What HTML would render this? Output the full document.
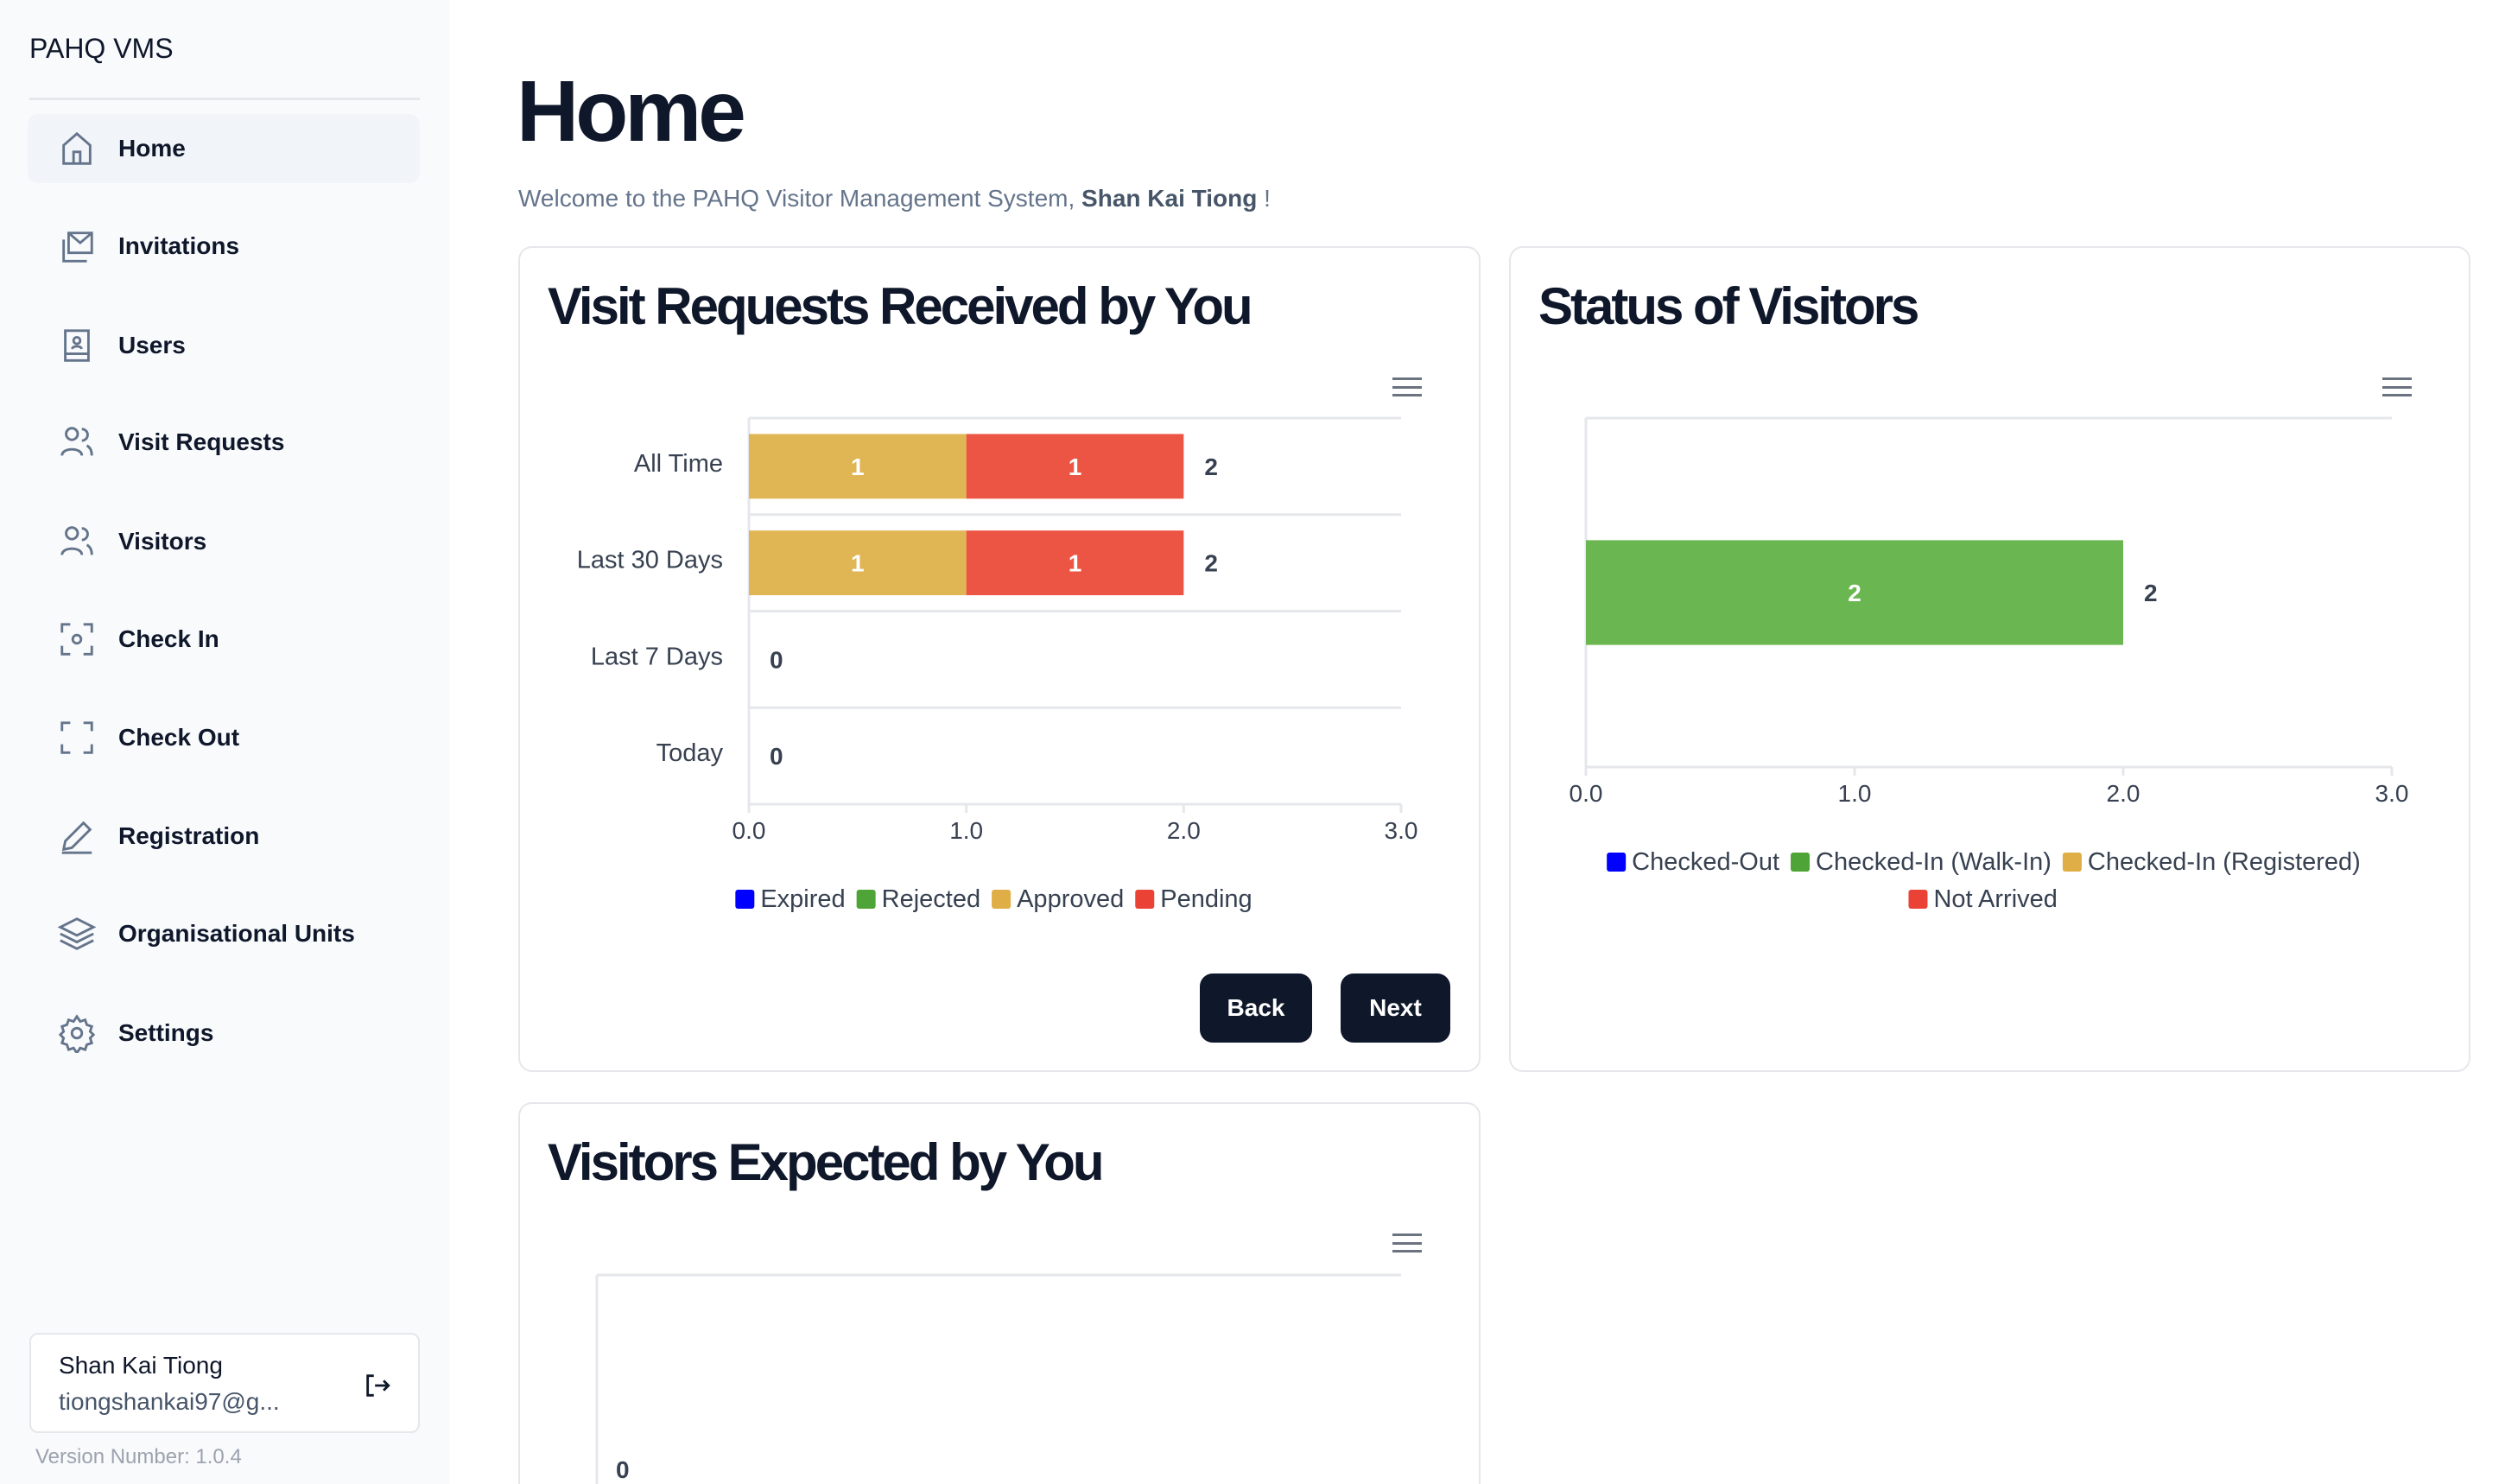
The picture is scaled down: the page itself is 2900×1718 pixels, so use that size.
<!DOCTYPE html>
<html><head><meta charset="utf-8">
<style>
*{box-sizing:border-box;margin:0;padding:0}
html,body{width:2900px;height:1718px;overflow:hidden}
body{background:#fff;font-family:"Liberation Sans",sans-serif;color:#0f172a;position:fixed;left:0;top:0}
.abs{position:absolute}
#sidebar{left:0;top:0;width:520px;height:1718px;background:#f8fafc}
.nav{position:absolute;left:32px;width:454px;height:80px;display:flex;align-items:center;font-size:28px;font-weight:bold;color:#0f172a;border-radius:12px}
.nav svg{position:absolute;left:34px;width:46px;height:46px}
.nav span{position:absolute;left:105px}
.card{position:absolute;background:#fff;border:2px solid #e5e7eb;border-radius:16px}
.ctitle{position:absolute;font-size:60px;font-weight:bold;letter-spacing:-3px;color:#0f172a}
.btn{position:absolute;background:#0f172a;color:#fff;font-size:28px;font-weight:bold;border-radius:15px;display:flex;align-items:center;justify-content:center}
.ham{position:absolute;width:34px;height:22px;border-top:3px solid #6b7280;border-bottom:3px solid #6b7280}
.ham:after{content:"";position:absolute;left:0;right:0;top:7px;border-top:3px solid #6b7280}
</style></head><body>
<div id="sidebar" class="abs">
  <div class="abs" style="left:34px;top:38px;font-size:32px">PAHQ VMS</div>
  <div class="abs" style="left:34px;top:113px;width:452px;height:3px;background:#e5e7eb"></div>
  <div class="nav" style="top:132px;background:#f1f5f9"><svg viewBox="0 0 24 24" fill="none" stroke="#64748b" stroke-width="1.5"><path d="M4 10 12 3l8 7v11H4z M10 21v-7h4v7"/></svg><span>Home</span></div>
  <div class="nav" style="top:245px"><svg viewBox="0 0 24 24" fill="none" stroke="#64748b" stroke-width="1.5"><path d="M7 4h14v12H7z M7 4l7 6 7-6 M4 8v13h14"/></svg><span>Invitations</span></div>
  <div class="nav" style="top:360px"><svg viewBox="0 0 24 24" fill="none" stroke="#64748b" stroke-width="1.5"><path d="M5 3h14v18H5z M5 17h14 M12 7a2 2 0 1 1 0 4a2 2 0 1 1 0-4 M9 14c1-2 5-2 6 0"/></svg><span>Users</span></div>
  <div class="nav" style="top:472px"><svg viewBox="0 0 24 24" fill="none" stroke="#64748b" stroke-width="1.5"><circle cx="9" cy="7" r="3.5"/><path d="M3 20c0-5 12-5 12 0 M15 4a3.5 3.5 0 0 1 0 7 M18 14c2 1 3 3 3 6"/></svg><span>Visit Requests</span></div>
  <div class="nav" style="top:587px"><svg viewBox="0 0 24 24" fill="none" stroke="#64748b" stroke-width="1.5"><circle cx="9" cy="7" r="3.5"/><path d="M3 20c0-5 12-5 12 0 M15 4a3.5 3.5 0 0 1 0 7 M18 14c2 1 3 3 3 6"/></svg><span>Visitors</span></div>
  <div class="nav" style="top:700px"><svg viewBox="0 0 24 24" fill="none" stroke="#64748b" stroke-width="1.5"><path d="M3 8V3h5 M16 3h5v5 M21 16v5h-5 M8 21H3v-5"/><circle cx="12" cy="12" r="2.5"/></svg><span>Check In</span></div>
  <div class="nav" style="top:814px"><svg viewBox="0 0 24 24" fill="none" stroke="#64748b" stroke-width="1.5"><path d="M3 8V3h5 M16 3h5v5 M21 16v5h-5 M8 21H3v-5"/></svg><span>Check Out</span></div>
  <div class="nav" style="top:928px"><svg viewBox="0 0 24 24" fill="none" stroke="#64748b" stroke-width="1.5"><path d="M4 20l1-5L16 4l4 4L9 19z M3 22h18"/></svg><span>Registration</span></div>
  <div class="nav" style="top:1041px"><svg viewBox="0 0 24 24" fill="none" stroke="#64748b" stroke-width="1.5"><path d="M12 3 2 8l10 5 10-5z M2 12l10 5 10-5 M2 16l10 5 10-5"/></svg><span>Organisational Units</span></div>
  <div class="nav" style="top:1156px"><svg viewBox="0 0 24 24" fill="none" stroke="#64748b" stroke-width="1.5"><circle cx="12" cy="12" r="3"/><path d="M12 2l2 3 3-1 1 3 3 1-1 3 2 2-2 2 1 3-3 1-1 3-3-1-2 3-2-3-3 1-1-3-3-1 1-3-2-2 2-2-1-3 3-1 1-3 3 1z"/></svg><span>Settings</span></div>
  <div class="abs" style="left:34px;top:1543px;width:452px;height:116px;background:#fff;border:2px solid #e5e7eb;border-radius:10px">
    <div class="abs" style="left:32px;top:20px;font-size:28px">Shan Kai Tiong</div>
    <div class="abs" style="left:32px;top:62px;font-size:28px;color:#475569">tiongshankai97@g...</div>
    <svg class="abs" style="left:384px;top:42px;width:34px;height:34px" viewBox="0 0 24 24" fill="none" stroke="#0f172a" stroke-width="2"><path d="M9 4H4v16h5 M10 12h11 M17 8l4 4-4 4"/></svg>
  </div>
  <div class="abs" style="left:41px;top:1673px;font-size:24px;color:#9ca3af">Version Number: 1.0.4</div>
</div>

<div class="abs" style="left:598px;top:72px;font-size:100px;font-weight:bold;letter-spacing:-4px">Home</div>
<div class="abs" style="left:600px;top:214px;font-size:28px;color:#64748b">Welcome to the PAHQ Visitor Management System, <b style="color:#475569">Shan Kai Tiong</b> !</div>

<div class="card" style="left:600px;top:285px;width:1114px;height:956px"></div>
<div class="card" style="left:1747px;top:285px;width:1113px;height:956px"></div>
<div class="card" style="left:600px;top:1276px;width:1114px;height:500px"></div>

<div class="ctitle" style="left:634px;top:320px">Visit Requests Received by You</div>
<div class="ctitle" style="left:1781px;top:320px">Status of Visitors</div>
<div class="ctitle" style="left:634px;top:1311px">Visitors Expected by You</div>

<div class="ham" style="left:1612px;top:437px"></div>
<div class="ham" style="left:2758px;top:437px"></div>
<div class="ham" style="left:1612px;top:1428px"></div>

<div class="btn" style="left:1389px;top:1127px;width:130px;height:80px">Back</div>
<div class="btn" style="left:1552px;top:1127px;width:127px;height:80px">Next</div>

<svg id="charts" class="abs" style="left:0;top:0" width="2900" height="1718" font-family="Liberation Sans, sans-serif"></svg>

<script>
const c1Categories = ["All Time","Last 30 Days","Last 7 Days","Today"];
const c1Series = ["Expired","Rejected","Approved","Pending"];
const c1Expired = [0,0,0,0];
const c1Rejected = [0,0,0,0];
const c1Approved = [1,1,0,0];
const c1Pending = [1,1,0,0];
const c1Colors = ["#0000ff","#4ea436","#e0ae46","#ea4335"];
const c1BarColors = ["#0000ff","#4ea436","#e0b554","#ec5444"];
const c1Ticks = ["0.0","1.0","2.0","3.0"];
const c2Categories = ["Visitors"];
const c2Series = ["Checked-Out","Checked-In (Walk-In)","Checked-In (Registered)","Not Arrived"];
const c2CheckedOut = [0];
const c2WalkIn = [2];
const c2Registered = [0];
const c2NotArrived = [0];
const c2Colors = ["#0000ff","#4ea436","#e0ae46","#ea4335"];
const c2BarColors = ["#0000ff","#6ab651","#e0b554","#ec5444"];
const c2Ticks = ["0.0","1.0","2.0","3.0"];
const c3Values = [0];

const svg = document.getElementById('charts');
const NS = "http://www.w3.org/2000/svg";
function mk(tag, attrs, text){const e=document.createElementNS(NS,tag);for(const k in attrs)e.setAttribute(k,attrs[k]);if(text!==undefined)e.textContent=text;svg.appendChild(e);return e;}

function hbar(cfg){
  const {x0,x1,y0,y1,cats,series,colors,max,ticks,barFrac,showCats,tickY}=cfg;
  const xs=v=>x0+(x1-x0)*v/max;
  const band=(y1-y0)/cats.length;
  for(let i=0;i<=cats.length;i++){
    const l=mk('line',{x1:x0,x2:x1,y1:y0+band*i,y2:y0+band*i,stroke:'#e5e7eb','stroke-width':3});
    
    
  }
  const ax=mk('line',{x1:x0,x2:x0,y1:y0,y2:y1,stroke:'#e5e7eb','stroke-width':3});
  
  
  ticks.forEach((t,i)=>{
    const v=max*i/(ticks.length-1);
    const tl=mk('line',{x1:xs(v),x2:xs(v),y1:y1,y2:y1+10,stroke:'#e5e7eb','stroke-width':3});
    
    
    const tt=mk('text',{x:xs(v),y:tickY,'text-anchor':'middle','font-size':28,fill:'#374151'},t);
    
    
  });
  cats.forEach((c,i)=>{
    const cy=y0+band*(i+0.5);
    if(showCats){
      const cl=mk('text',{x:x0-30,y:cy+6,'text-anchor':'end','font-size':29,fill:'#374151'},c);
      
      
    }
    const bh=band*barFrac;
    let acc=0;
    series.forEach((s,j)=>{
      const v=s[i];
      if(v>0){
        const r=mk('rect',{x:xs(acc),y:cy-bh/2,width:xs(acc+v)-xs(acc),height:bh,fill:cfg.barColors[j]});
        
        
        const lt=mk('text',{x:(xs(acc)+xs(acc+v))/2,y:cy+10,'text-anchor':'middle','font-size':28,'font-weight':'bold',fill:'#fff'},v);
        
        
      }
      acc+=v;
    });
    const tot=mk('text',{x:xs(acc)+24,y:cy+10,'font-size':28,'font-weight':'bold',fill:'#374151'},acc);
    
    
  });
}

hbar({x0:867,x1:1622,y0:484,y1:931,cats:c1Categories,series:[c1Expired,c1Rejected,c1Approved,c1Pending],colors:c1Colors,barColors:c1BarColors,max:3,ticks:c1Ticks,barFrac:0.67,showCats:true,tickY:971});
hbar({x0:1836,x1:2769,y0:484,y1:888,cats:c2Categories,series:[c2CheckedOut,c2WalkIn,c2Registered,c2NotArrived],colors:c2Colors,barColors:c2BarColors,max:3,ticks:c2Ticks,barFrac:0.3,showCats:false,tickY:928});

function legend(items,colors,y,cx){
  const ctx=document.createElement('canvas').getContext('2d');ctx.font='29px Liberation Sans';
  const w=items.map(t=>ctx.measureText(t).width+30);
  const total=w.reduce((a,b)=>a+b,0)+12*(items.length-1);
  let x=cx-total/2;
  items.forEach((t,i)=>{
    const r=mk('rect',{x:x,y:y-20,width:22,height:22,rx:3,fill:colors[i]});
    
    
    const tx=mk('text',{x:x+29,y:y,'font-size':29,fill:'#374151'},t);
    
    
    x+=w[i]+12;
  });
}
legend(c1Series,c1Colors,1050,1151);
legend(c2Series.slice(0,3),c2Colors.slice(0,3),1007,2297);
legend(c2Series.slice(3),c2Colors.slice(3),1050,2297);

const l3=mk('line',{x1:691,x2:1622,y1:1476,y2:1476,stroke:'#e5e7eb','stroke-width':3});


const a3=mk('line',{x1:691,x2:691,y1:1476,y2:1718,stroke:'#e5e7eb','stroke-width':3});


const v3=mk('text',{x:713,y:1711,'font-size':28,'font-weight':'bold',fill:'#374151'},c3Values[0]);


</script>
</body></html>
